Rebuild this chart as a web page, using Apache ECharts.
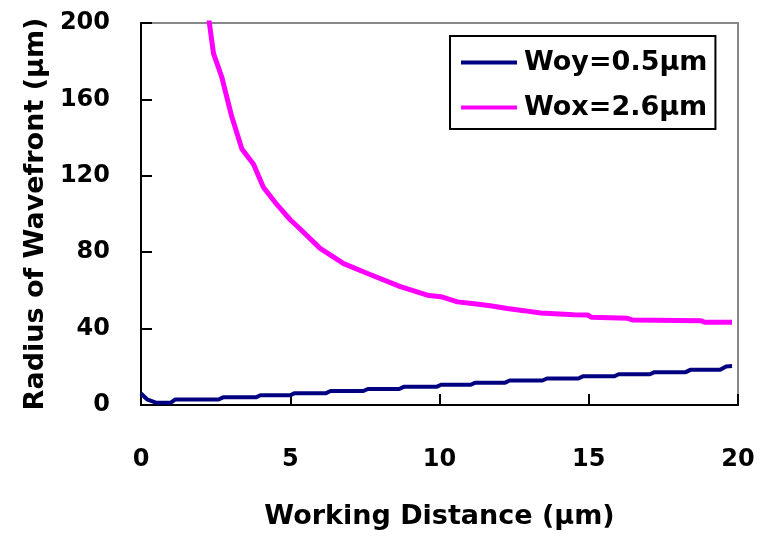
<!DOCTYPE html>
<html>
<head>
<meta charset="utf-8">
<script src="https://cdn.jsdelivr.net/npm/echarts@6/dist/echarts.min.js"></script>
<style>
  html, body { margin: 0; padding: 0; background: #fff; }
  #chart { width: 765px; height: 545px; }
</style>
</head>
<body>
<div id="chart"></div>
<script>
// values: [working distance, radius of wavefront]
var woyData = [
  [0, 6], [0.2, 3], [0.5, 1.2], [1.0, 1.2], [1.15, 2.9], [2.6, 2.9], [2.75, 4.0],
  [3.85, 4.0], [4.0, 5.1], [5.0, 5.1], [5.15, 6.2], [6.2, 6.2], [6.35, 7.3],
  [7.45, 7.3], [7.6, 8.4], [8.65, 8.4], [8.8, 9.5], [9.9, 9.5], [10.05, 10.6],
  [11.05, 10.6], [11.2, 11.7], [12.2, 11.7], [12.35, 12.8], [13.45, 12.8], [13.6, 13.9],
  [14.65, 13.9], [14.8, 15.0], [15.85, 15.0], [16.0, 16.1], [17.05, 16.1], [17.2, 17.2],
  [18.25, 17.2], [18.4, 18.4], [19.4, 18.4], [19.6, 20.2], [19.8, 20.4]
];
var woxData = [
  [2.25, 206], [2.29, 200], [2.43, 184], [2.7, 172], [3.04, 151], [3.38, 134], [3.77, 126],
  [4.1, 114], [4.55, 105], [5.0, 97], [5.34, 92], [6.0, 82], [6.79, 74], [7.57, 69],
  [8.69, 62], [9.59, 57.5], [10.1, 56.5], [10.6, 54], [11.16, 53], [11.7, 52],
  [12.27, 50.5], [12.83, 49.4], [13.39, 48.2], [14.5, 47.2], [14.96, 47.1], [15.1, 45.9],
  [16.3, 45.4], [16.47, 44.5], [18.76, 44.1], [18.9, 43.3], [19.8, 43.3]
];
var seriesNames = ['Woy=0.5µm', 'Wox=2.6µm'];
var seriesColors = ['#000080', '#ff00ff'];
var xTicks = [0, 5, 10, 15, 20];
var yTicks = [0, 40, 80, 120, 160, 200];

var font = 'DejaVu Sans';
var chart = echarts.init(document.getElementById('chart'));
chart.setOption({
  animation: false,
  backgroundColor: '#fff',
  grid: {
    left: 141, right: 27, top: 23, bottom: 140,
    show: true, borderColor: '#888', borderWidth: 2, backgroundColor: '#fff'
  },
  legend: {
    orient: 'vertical',
    left: 450, top: 36,
    padding: [13, 8, 8, 11],
    itemGap: 18,
    itemWidth: 56, itemHeight: 4,
    icon: 'rect',
    borderColor: '#000', borderWidth: 2,
    backgroundColor: '#fff',
    textStyle: { fontFamily: font, fontWeight: 'bold', fontSize: 27, color: '#000', padding: [0, 0, 0, 2] },
    data: seriesNames
  },
  xAxis: {
    type: 'value',
    min: xTicks[0], max: xTicks[xTicks.length - 1], interval: 5,
    name: 'Working Distance (µm)',
    nameLocation: 'middle', nameGap: 98,
    nameTextStyle: { fontFamily: font, fontWeight: 'bold', fontSize: 27, color: '#000' },
    axisLine: { lineStyle: { color: '#000', width: 2 } },
    axisTick: { inside: true, length: 11, lineStyle: { color: '#000', width: 2 } },
    axisLabel: { margin: 43, fontFamily: font, fontWeight: 'bold', fontSize: 24, color: '#000' },
    splitLine: { show: false }
  },
  yAxis: {
    type: 'value',
    min: yTicks[0], max: yTicks[yTicks.length - 1], interval: 40,
    name: 'Radius of Wavefront (µm)',
    nameLocation: 'middle', nameGap: 89,
    nameTextStyle: { fontFamily: font, fontWeight: 'bold', fontSize: 27, color: '#000' },
    axisLine: { show: true, lineStyle: { color: '#000', width: 2 } },
    axisTick: { show: true, inside: true, length: 11, lineStyle: { color: '#000', width: 2 } },
    axisLabel: { margin: 31, fontFamily: font, fontWeight: 'bold', fontSize: 24, color: '#000' },
    splitLine: { show: false }
  },
  series: [
    {
      name: seriesNames[0], type: 'line', data: woyData,
      showSymbol: false, clip: true,
      lineStyle: { color: seriesColors[0], width: 4 },
      itemStyle: { color: seriesColors[0] }
    },
    {
      name: seriesNames[1], type: 'line', data: woxData,
      showSymbol: false, clip: true,
      lineStyle: { color: seriesColors[1], width: 5 },
      itemStyle: { color: seriesColors[1] }
    }
  ]
});
</script>
</body>
</html>
